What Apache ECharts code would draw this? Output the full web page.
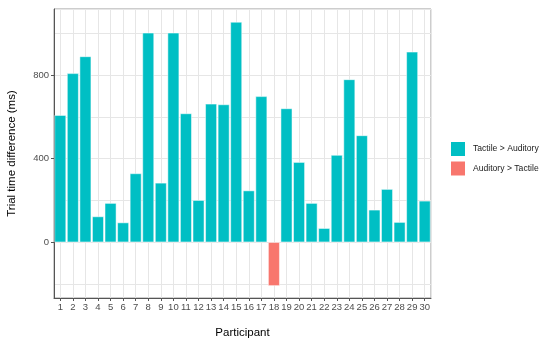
<!DOCTYPE html>
<html>
<head>
<meta charset="utf-8">
<script src="https://cdn.jsdelivr.net/npm/echarts@6/dist/echarts.min.js"></script>
<style>html,body{margin:0;padding:0;background:#fff}#c{width:550px;height:345px}</style>
</head>
<body>
<div id="c"></div>
<script>
const participants = ['1','2','3','4','5','6','7','8','9','10','11','12','13','14','15','16','17','18','19','20','21','22','23','24','25','26','27','28','29','30'];
const diffs = [608, 808, 889, 123, 187, 94, 329, 1002, 284, 1002, 616, 201, 662, 659, 1054, 247, 698, -209, 640, 383, 187, 67, 417, 779, 511, 155, 254, 96, 911, 198];
const yTicks = [0, 400, 800];
const yGrid = [-200, 0, 200, 400, 600, 800, 1000];
const groupNames = ['Tactile > Auditory', 'Auditory > Tactile'];
const groupColors = ['#00BFC4', '#F8766D'];

const pos = diffs.map(v => v >= 0 ? v : null);
const neg = diffs.map(v => v < 0 ? v : null);
const font = 'Liberation Sans, Arial, Helvetica, sans-serif';
const yMin = -267, yMax = 1116;
const gridColor = '#e6e6e6';

const chart = echarts.init(document.getElementById('c'), null, {renderer: 'canvas'});
chart.setOption({
  animation: false,
  backgroundColor: '#fff',
  textStyle: {fontFamily: font},
  grid: {left: 54, right: 119, top: 9, bottom: 47, show: true, borderColor: '#9a9a9a', borderWidth: 1, backgroundColor: 'transparent', containLabel: false, outerBoundsMode: 'none'},
  legend: {
    orient: 'vertical', left: 449, top: 140, padding: 0,
    data: groupNames,
    icon: 'rect', itemWidth: 16, itemHeight: 16, itemGap: 1.5,
    textStyle: {fontSize: 8.6, color: '#1a1a1a', fontFamily: font, padding: [0, 0, 0, 2]},
    selectedMode: false
  },
  xAxis: [{
    type: 'category', data: participants, boundaryGap: true, z: 3,
    axisLine: {onZero: false, lineStyle: {color: '#555', width: 1}},
    axisTick: {show: true, alignWithLabel: true, length: 3, lineStyle: {color: '#555'}},
    axisLabel: {interval: 0, fontSize: 9.5, color: '#4d4d4d', margin: 4, fontFamily: font},
    splitLine: {show: false},
    name: 'Participant', nameLocation: 'middle', nameGap: 29,
    nameTextStyle: {fontSize: 11.5, color: '#000', fontFamily: font}
  }, {
    type: 'value', min: 0.5, max: participants.length + 0.5, minInterval: 1, maxInterval: 1,
    position: 'top', z: 0, silent: true,
    axisLine: {show: false}, axisTick: {show: false}, axisLabel: {show: false},
    splitLine: {show: true, lineStyle: {color: gridColor, width: 1}}
  }],
  yAxis: [{
    type: 'value', min: yMin, max: yMax, z: 3,
    axisLine: {show: true, onZero: false, lineStyle: {color: '#555', width: 1}},
    axisTick: {show: true, length: 3, customValues: yTicks, lineStyle: {color: '#555'}},
    axisLabel: {fontSize: 9.5, color: '#4d4d4d', margin: 5, customValues: yTicks, fontFamily: font},
    splitLine: {show: false},
    name: 'Trial time difference (ms)', nameLocation: 'middle', nameGap: 36,
    nameTextStyle: {fontSize: 11.5, color: '#000', fontFamily: font}
  }, {
    type: 'value', min: yMin, max: yMax, minInterval: 200, maxInterval: 200,
    position: 'right', z: 0, silent: true,
    axisLine: {show: false}, axisTick: {show: false}, axisLabel: {show: false},
    splitLine: {show: true, lineStyle: {color: gridColor, width: 1}}
  }],
  series: [
    {
      type: 'bar', name: groupNames[0], data: pos, z: 3, xAxisIndex: 0, yAxisIndex: 0,
      barCategoryGap: '8%', barGap: '-100%',
      itemStyle: {color: groupColors[0], borderColor: '#fff', borderWidth: 0.5}
    },
    {
      type: 'bar', name: groupNames[1], data: neg, z: 3, xAxisIndex: 0, yAxisIndex: 0,
      barCategoryGap: '8%', barGap: '-100%',
      itemStyle: {color: groupColors[1], borderColor: '#fff', borderWidth: 0.5}
    }
  ]
});
</script>
</body>
</html>
